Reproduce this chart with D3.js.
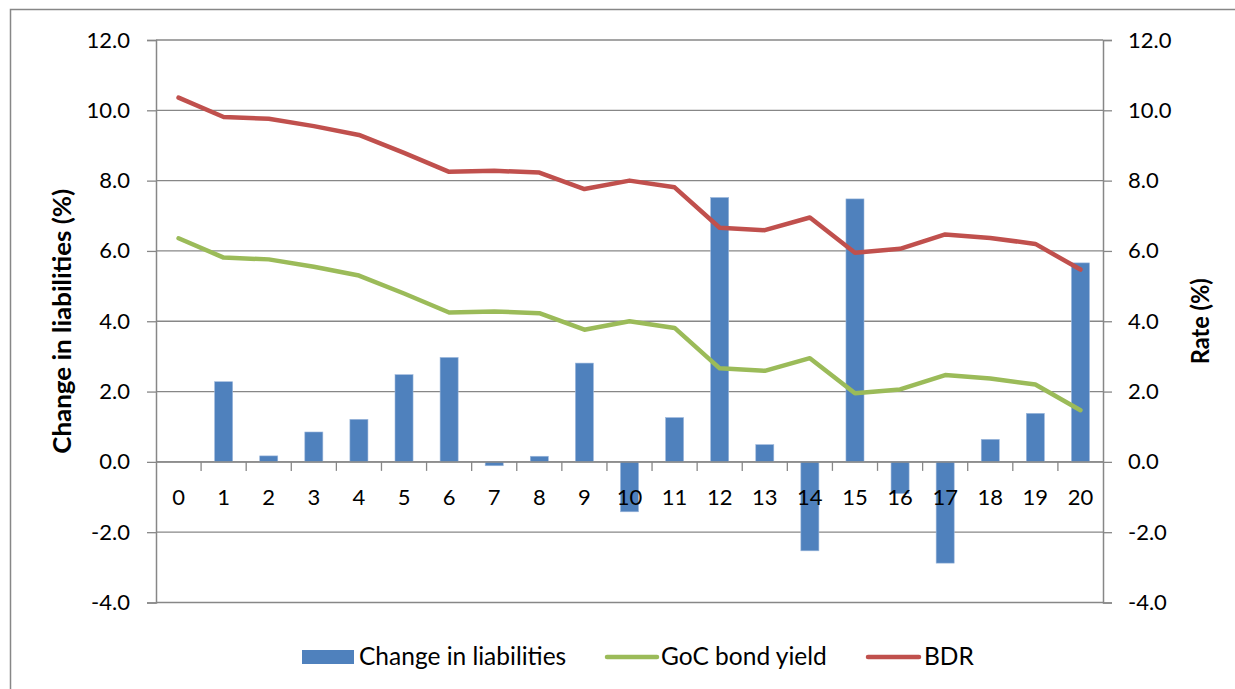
<!DOCTYPE html>
<html>
<head>
<meta charset="utf-8">
<script src="https://cdn.jsdelivr.net/npm/d3@7"></script>
<style>
  body { margin: 0; background: #fff; }
  svg text { font-family: Lato, "Open Sans", sans-serif; fill: #000; }
</style>
</head>
<body>
<div id="grafico"></div>
<script>
// dados
var anos = d3.range(0, 21).map(String);
var variacaoPassivo = [null, 2.28, 0.17, 0.85, 1.21, 2.48, 2.97, -0.11, 0.16, 2.81, -1.42,
                       1.26, 7.52, 0.49, -2.53, 7.48, -0.90, -2.88, 0.64, 1.38, 5.66];
var gocYield = [6.36, 5.81, 5.76, 5.55, 5.30, 4.79, 4.25, 4.28, 4.23, 3.76, 4.00,
                3.81, 2.66, 2.59, 2.95, 1.95, 2.06, 2.47, 2.37, 2.20, 1.47];
var bdr = [10.36, 9.81, 9.76, 9.55, 9.30, 8.79, 8.25, 8.28, 8.23, 7.76, 8.00,
           7.81, 6.66, 6.59, 6.95, 5.95, 6.06, 6.47, 6.37, 6.20, 5.47];
var ticksY = [-4, -2, 0, 2, 4, 6, 8, 10, 12];

var largura = 1235, altura = 689;
var esq = 156, dir = 1103, topo = 40, base = 602.5;
var cinza = "#878787";
var formato = function(d) { return d.toFixed(1); }; // hífen comum, como no Excel

var svg = d3.select("#grafico").append("svg")
    .attr("width", largura).attr("height", altura);

// borda do gráfico
svg.append("rect")
    .attr("x", 10.5).attr("y", 9.5)
    .attr("width", 1240).attr("height", 700)
    .attr("fill", "none").attr("stroke", cinza).attr("stroke-width", 1.5);

var x = d3.scaleBand().domain(anos).range([esq, dir]).paddingInner(0).paddingOuter(0);
var y = d3.scaleLinear().domain([-4, 12]).range([base, topo]);
var y2 = d3.scaleLinear().domain([-4, 12]).range([base, topo]);

// linhas de grade
svg.append("g").selectAll("line").data(ticksY).enter().append("line")
    .attr("x1", esq).attr("x2", dir)
    .attr("y1", function(d) { return y(d); }).attr("y2", function(d) { return y(d); })
    .attr("stroke", cinza).attr("stroke-width", 1.3);

// eixo esquerdo
var eixoEsq = svg.append("g").attr("transform", "translate(" + esq + ",0)")
    .call(d3.axisLeft(y).tickValues(ticksY).tickFormat(formato).tickSize(9).tickPadding(17));
// eixo direito
var eixoDir = svg.append("g").attr("transform", "translate(" + dir + ",0)")
    .call(d3.axisRight(y2).tickValues(ticksY).tickFormat(formato).tickSize(9).tickPadding(16));
[eixoEsq, eixoDir].forEach(function(g) {
    g.select(".domain").attr("stroke", cinza).attr("stroke-width", 1.5);
    g.selectAll(".tick line").attr("stroke", cinza).attr("stroke-width", 1.3);
    g.selectAll(".tick text").style("font-size", "22px").attr("fill", "#000");
});

// barras
var larguraBarra = x.bandwidth() * 0.4;
svg.append("g").selectAll("rect").data(variacaoPassivo.map(function(v, i) { return {ano: anos[i], v: v}; })
        .filter(function(d) { return d.v !== null; }))
    .enter().append("rect")
    .attr("x", function(d) { return x(d.ano) + (x.bandwidth() - larguraBarra) / 2; })
    .attr("y", function(d) { return y(Math.max(0, d.v)); })
    .attr("width", larguraBarra)
    .attr("height", function(d) { return Math.abs(y(d.v) - y(0)); })
    .attr("fill", "#4F81BD")
    .attr("stroke", "#9db8dc").attr("stroke-width", 0.6);

// eixo x (cruza em zero)
var eixoX = svg.append("g").attr("transform", "translate(0," + y(0) + ")");
eixoX.append("line").attr("x1", esq).attr("x2", dir)
    .attr("stroke", cinza).attr("stroke-width", 1.5);
eixoX.selectAll(".marca").data(anos.slice(1)).enter().append("line")
    .attr("class", "marca")
    .attr("x1", function(d) { return x(d); }).attr("x2", function(d) { return x(d); })
    .attr("y1", 0).attr("y2", 9)
    .attr("stroke", cinza).attr("stroke-width", 1.3);
eixoX.selectAll("text").data(anos).enter().append("text")
    .attr("x", function(d) { return x(d) + x.bandwidth() / 2; })
    .attr("y", 43)
    .attr("text-anchor", "middle")
    .style("font-size", "22px")
    .text(function(d) { return d; });

// linhas
var linha = d3.line()
    .x(function(d, i) { return x(anos[i]) + x.bandwidth() / 2; })
    .y(function(d) { return y2(d); });
svg.append("path").datum(gocYield).attr("d", linha)
    .attr("fill", "none").attr("stroke", "#9BBB59").attr("stroke-width", 4.5)
    .attr("stroke-linejoin", "round").attr("stroke-linecap", "round");
svg.append("path").datum(bdr).attr("d", linha)
    .attr("fill", "none").attr("stroke", "#C0504D").attr("stroke-width", 4.5)
    .attr("stroke-linejoin", "round").attr("stroke-linecap", "round");

// títulos dos eixos
svg.append("text")
    .attr("transform", "translate(71," + ((topo + base) / 2) + ") rotate(-90)")
    .attr("text-anchor", "middle")
    .attr("textLength", 265).attr("lengthAdjust", "spacingAndGlyphs")
    .style("font-size", "24px").style("font-weight", "bold")
    .text("Change in liabilities (%)");
svg.append("text")
    .attr("transform", "translate(1209," + ((topo + base) / 2) + ") rotate(-90)")
    .attr("text-anchor", "middle")
    .attr("textLength", 86).attr("lengthAdjust", "spacingAndGlyphs")
    .style("font-size", "24px").style("font-weight", "bold")
    .text("Rate (%)");

// legenda
var legenda = svg.append("g");
var yLeg = 657;
legenda.append("rect").attr("x", 302).attr("y", yLeg - 7).attr("width", 52).attr("height", 14)
    .attr("fill", "#4F81BD");
legenda.append("text").attr("x", 359).attr("y", yLeg + 8).style("font-size", "24.5px")
    .text("Change in liabilities");
legenda.append("line").attr("x1", 607).attr("x2", 657).attr("y1", yLeg).attr("y2", yLeg)
    .attr("stroke", "#9BBB59").attr("stroke-width", 4.5).attr("stroke-linecap", "round");
legenda.append("text").attr("x", 661).attr("y", yLeg + 8).style("font-size", "24.5px")
    .text("GoC bond yield");
legenda.append("line").attr("x1", 868).attr("x2", 919).attr("y1", yLeg).attr("y2", yLeg)
    .attr("stroke", "#C0504D").attr("stroke-width", 4.5).attr("stroke-linecap", "round");
legenda.append("text").attr("x", 924).attr("y", yLeg + 8).style("font-size", "24.5px")
    .text("BDR");
</script>
</body>
</html>
